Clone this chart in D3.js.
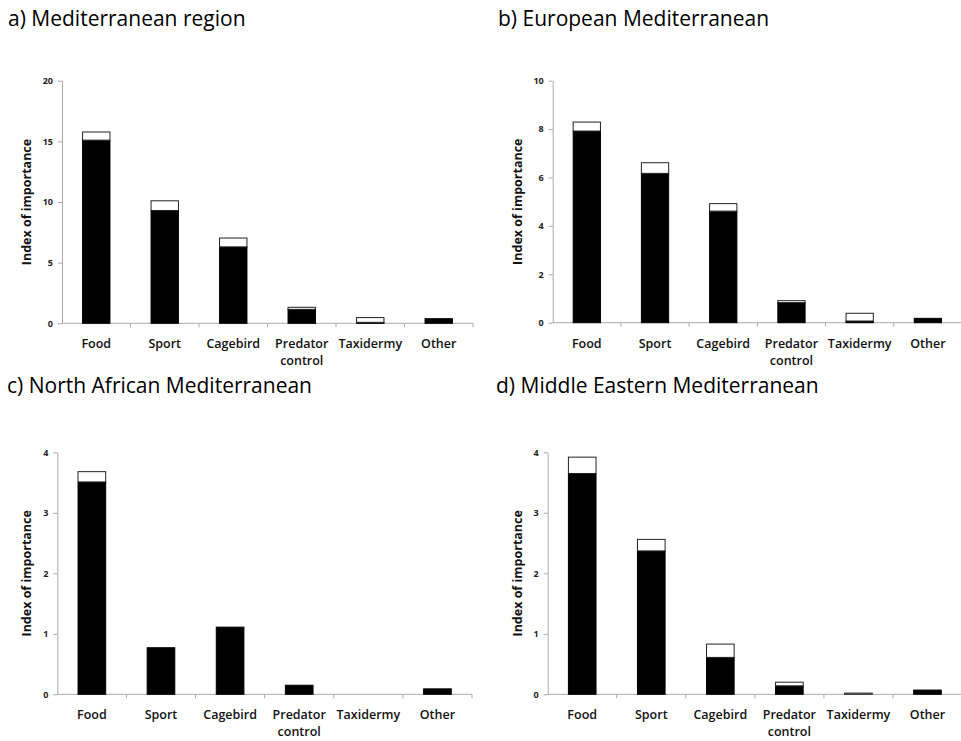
<!DOCTYPE html>
<html>
<head>
<meta charset="utf-8">
<script src="https://cdn.jsdelivr.net/npm/d3@7"></script>
<style>
    body { margin: 0; background: #fff; }
    .title { font-family: "Open Sans", sans-serif; font-size: 21px; fill: #000; }
    .cat { font-family: "Open Sans", sans-serif; font-size: 12.5px; font-weight: 600; fill: #111; }
    .ylab { font-family: "Open Sans", sans-serif; font-size: 12.5px; font-weight: 700; fill: #111; }
    .axis text { font-family: "Open Sans", sans-serif; font-size: 9px; font-weight: 700; fill: #222; }
    .axis path, .axis line { stroke: #aaa; }
</style>
</head>
<body>
<div id="chart"></div>
<script>
const categories = ['Food', 'Sport', 'Cagebird', 'Predator control', 'Taxidermy', 'Other'];

const titles = ['a) Mediterranean region', 'b) European Mediterranean',
    'c) North African Mediterranean', 'd) Middle Eastern Mediterranean'];

// black part of each bar
const baseA = [15.1, 9.3, 6.3, 1.15, 0.08, 0.38];
const baseB = [7.92, 6.17, 4.61, 0.83, 0.07, 0.18];
const baseC = [3.51, 0.77, 1.11, 0.15, 0, 0.09];
const baseD = [3.65, 2.37, 0.61, 0.14, 0, 0.07];

// white part stacked on top
const extraA = [0.67, 0.8, 0.73, 0.17, 0.39, 0];
const extraB = [0.37, 0.44, 0.31, 0.08, 0.32, 0];
const extraC = [0.17, 0, 0, 0, 0, 0];
const extraD = [0.27, 0.19, 0.22, 0.06, 0.02, 0];

const yMax = [20, 10, 4, 4];
const yTicks = [[0, 5, 10, 15, 20], [0, 2, 4, 6, 8, 10], [0, 1, 2, 3, 4], [0, 1, 2, 3, 4]];

const svg = d3.select('#chart').append('svg')
    .attr('width', 961)
    .attr('height', 741);

const panels = [
    {title: titles[0], base: baseA, extra: extraA, ymax: yMax[0], ticks: yTicks[0],
        tx: 8, ty: 26, x0: 62, x1: 473, yTop: 80.7, yBot: 323.3, labX: 31},
    {title: titles[1], base: baseB, extra: extraB, ymax: yMax[1], ticks: yTicks[1],
        tx: 498, ty: 26, x0: 552.7, x1: 962, yTop: 80.7, yBot: 322.7, labX: 522},
    {title: titles[2], base: baseC, extra: extraC, ymax: yMax[2], ticks: yTicks[2],
        tx: 7, ty: 393, x0: 57.3, x1: 472, yTop: 452.3, yBot: 694.3, labX: 31},
    {title: titles[3], base: baseD, extra: extraD, ymax: yMax[3], ticks: yTicks[3],
        tx: 496, ty: 393, x0: 547.7, x1: 962, yTop: 452.3, yBot: 694.3, labX: 522}
];

panels.forEach(p => drawPanel(p));

function drawPanel(p) {
    const g = svg.append('g');

    g.append('text')
        .attr('class', 'title')
        .attr('x', p.tx)
        .attr('y', p.ty)
        .text(p.title);

    const xScale = d3.scaleBand()
        .domain(categories)
        .range([p.x0, p.x1])
        .paddingInner(0.6)
        .paddingOuter(0.3);

    const yScale = d3.scaleLinear()
        .domain([0, p.ymax])
        .range([p.yBot, p.yTop]);

    const yAxis = d3.axisLeft(yScale)
        .tickValues(p.ticks)
        .tickFormat(d3.format('d'))
        .tickSize(4)
        .tickSizeOuter(0)
        .tickPadding(5);

    g.append('g')
        .attr('class', 'axis y-axis')
        .attr('transform', `translate(${p.x0}, 0)`)
        .call(yAxis);

    // x axis: ticks sit on the category boundaries
    const bounds = d3.range(categories.length + 1).map(i => p.x0 + i * xScale.step());
    const xAxisGroup = g.append('g').attr('class', 'axis x-axis');
    xAxisGroup.append('line')
        .attr('x1', p.x0).attr('x2', p.x1)
        .attr('y1', p.yBot).attr('y2', p.yBot);
    xAxisGroup.selectAll('.xt')
        .data(bounds.slice(1))
        .enter()
        .append('line')
        .attr('class', 'xt')
        .attr('x1', d => d).attr('x2', d => d)
        .attr('y1', p.yBot).attr('y2', p.yBot + 4);

    const data = categories.map((c, i) => ({cat: c, base: p.base[i], extra: p.extra[i]}));

    g.selectAll('.bar-base')
        .data(data.filter(d => d.base > 0))
        .enter()
        .append('rect')
        .attr('class', 'bar-base')
        .attr('x', d => xScale(d.cat))
        .attr('width', xScale.bandwidth())
        .attr('y', d => yScale(d.base))
        .attr('height', d => yScale(0) - yScale(d.base))
        .attr('fill', '#000')
        .attr('stroke', '#000')
        .attr('stroke-width', 1);

    g.selectAll('.bar-extra')
        .data(data.filter(d => d.extra > 0))
        .enter()
        .append('rect')
        .attr('class', 'bar-extra')
        .attr('x', d => xScale(d.cat))
        .attr('width', xScale.bandwidth())
        .attr('y', d => yScale(d.base + d.extra))
        .attr('height', d => yScale(d.base) - yScale(d.base + d.extra))
        .attr('fill', '#fff')
        .attr('stroke', '#222')
        .attr('stroke-width', 1);

    const labels = g.selectAll('.cat')
        .data(categories)
        .enter()
        .append('text')
        .attr('class', 'cat')
        .attr('text-anchor', 'middle')
        .attr('x', d => xScale(d) + xScale.bandwidth() / 2)
        .attr('y', p.yBot + 25);

    labels.each(function (d) {
        const words = d === 'Predator control' ? ['Predator', 'control'] : [d];
        d3.select(this).selectAll('tspan')
            .data(words)
            .enter()
            .append('tspan')
            .attr('x', xScale(d) + xScale.bandwidth() / 2)
            .attr('dy', (w, i) => i === 0 ? 0 : 17)
            .text(w => w);
    });

    g.append('text')
        .attr('class', 'ylab')
        .attr('text-anchor', 'middle')
        .attr('transform', `translate(${p.labX}, ${(p.yTop + p.yBot) / 2}) rotate(-90)`)
        .text('Index of importance');
}
</script>
</body>
</html>
